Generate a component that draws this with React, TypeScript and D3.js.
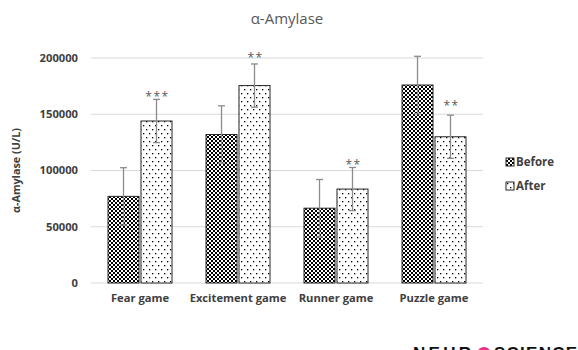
import React from "react";
import * as d3 from "d3";

const categories = ["Fear game", "Excitement game", "Runner game", "Puzzle game"];
const seriesNames = ["Before", "After"];
const beforeValues = [77000, 132000, 66500, 176000];
const afterValues = [144000, 175500, 83500, 130000];
const beforeErrors = [25500, 25500, 25500, 25500];
const afterErrors = [19200, 19200, 19200, 19200];
const significance = ["***", "**", "**", "**"];
const significanceLevel = [168000, 202500, 108000, 160000];
const yTicks = [0, 50000, 100000, 150000, 200000];

const W = 578;
const H = 350;
const FONT = "'Open Sans', 'DejaVu Sans', sans-serif";

export default function App() {
  const x = d3.scaleBand<string>().domain(categories).range([91, 483]).padding(0);
  const x1 = d3
    .scaleBand<string>()
    .domain(seriesNames)
    .range([17, x.bandwidth() - 17])
    .paddingInner(0.06);
  const y = d3.scaleLinear().domain([0, 200000]).range([283, 58]);

  const rows = categories.map((c, i) => ({
    cat: c,
    vals: [
      { s: "Before", v: beforeValues[i], e: beforeErrors[i] },
      { s: "After", v: afterValues[i], e: afterErrors[i] },
    ],
    sig: significance[i],
    sigLevel: significanceLevel[i],
  }));

  return (
    <svg
      width={W}
      height={H}
      style={{ position: "absolute", left: 0, top: 0, background: "#fff" }}
      fontFamily={FONT}
    >
      <defs>
        <pattern id="checker" width="4" height="4" patternUnits="userSpaceOnUse">
          <rect width="4" height="4" fill="#000" />
          <rect x="0" y="0" width="2" height="2" fill="#fff" />
          <rect x="2" y="2" width="2" height="2" fill="#fff" />
        </pattern>
        <pattern id="dots" width="6" height="8" patternUnits="userSpaceOnUse">
          <rect width="6" height="8" fill="#fff" />
          <rect x="1" y="1" width="1.3" height="1.3" fill="#000" />
          <rect x="4" y="5" width="1.3" height="1.3" fill="#000" />
        </pattern>
      </defs>
      <rect width={W} height={H} fill="#fff" />

      {/* title */}
      <text x={287} y={24} textAnchor="middle" fontSize={15} fill="#595959">
        α-Amylase
      </text>

      {/* gridlines and y ticks */}
      {yTicks.map((t) => (
        <g key={t}>
          <line x1={91} x2={483} y1={y(t)} y2={y(t)} stroke="#d9d9d9" strokeWidth={1} />
          <text
            x={78}
            y={y(t)}
            dy="0.35em"
            textAnchor="end"
            fontSize={11.2}
            fontWeight="bold"
            fill="#404040"
          >
            {t}
          </text>
        </g>
      ))}

      {/* y title */}
      <text
        transform={`translate(20, ${(y(0) + y(200000)) / 2}) rotate(-90)`}
        textAnchor="middle"
        fontSize={10.8}
        fontWeight="bold"
        fill="#404040"
      >
        α-Amylase (U/L)
      </text>

      {/* bars */}
      {rows.map((r) => (
        <g key={r.cat} transform={`translate(${x(r.cat)},0)`}>
          {r.vals.map((d) => (
            <rect
              key={d.s}
              x={x1(d.s)}
              y={y(d.v)}
              width={x1.bandwidth()}
              height={y(0) - y(d.v)}
              fill={d.s === "Before" ? "url(#checker)" : "url(#dots)"}
              stroke="#262626"
              strokeWidth={1}
            />
          ))}
          {r.vals.map((d) => {
            const cx = (x1(d.s) as number) + x1.bandwidth() / 2;
            const yt = y(d.v + d.e);
            const yb = y(d.v - d.e);
            return (
              <g key={d.s + "e"} stroke="#8c8c8c" strokeWidth={1.3}>
                <line x1={cx} x2={cx} y1={yt} y2={yb} />
                <line x1={cx - 3.5} x2={cx + 3.5} y1={yt} y2={yt} />
                <line x1={cx - 3.5} x2={cx + 3.5} y1={yb} y2={yb} />
              </g>
            );
          })}
          <text
            x={(x1("After") as number) + x1.bandwidth() / 2 + 1}
            y={y(r.sigLevel)}
            dy="0.6em"
            textAnchor="middle"
            fontSize={12}
            fill="#595959"
            letterSpacing={1.5}
          >
            {r.sig}
          </text>
          <text
            x={x.bandwidth() / 2}
            y={302}
            textAnchor="middle"
            fontSize={11.2}
            fontWeight="bold"
            fill="#404040"
          >
            {r.cat}
          </text>
        </g>
      ))}

      {/* legend */}
      {seriesNames.map((s, i) => (
        <g key={s} transform={`translate(506, ${158 + i * 24})`}>
          <rect
            width={8}
            height={8}
            fill={s === "Before" ? "url(#checker)" : "url(#dots)"}
            stroke="#262626"
            strokeWidth={1}
          />
          <text x={10} y={4} dy="0.36em" fontSize={11.5} fontWeight="bold" fill="#404040">
            {s}
          </text>
        </g>
      ))}

      {/* cut-off logo */}
      <g fontFamily="'Liberation Sans', Arial, sans-serif" fontWeight="bold" fill="#111">
        <text x={413} y={359} fontSize={17} textLength={58}>
          NEUR
        </text>
        <circle cx={484} cy={354} r={7} fill="#e8308a" />
        <text x={494} y={359} fontSize={17} textLength={83}>
          SCIENCE
        </text>
      </g>
    </svg>
  );
}
